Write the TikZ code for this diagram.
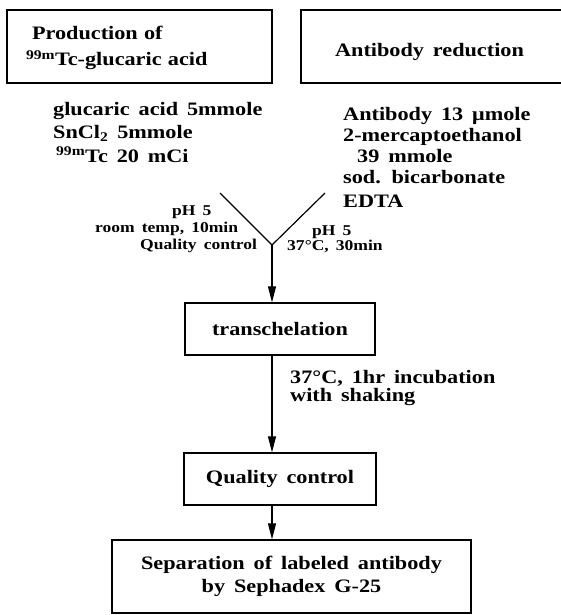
\documentclass[tikz,border=0pt]{standalone}
\usepackage{fontspec}
\newfontfamily\figfont{Liberation Serif}[FakeStretch=1.17,WordSpace=1.6]
\usetikzlibrary{arrows.meta}

\begin{document}
\begin{tikzpicture}[x=1pt,y=-1pt,
  box/.style={draw,line width=1.3pt,inner sep=0pt},
  bigtext/.style={font=\figfont\bfseries\fontsize{19}{22}\selectfont},
  smalltext/.style={font=\figfont\bfseries\fontsize{15}{17}\selectfont},
  flow/.style={line width=1.2pt,-{Triangle[length=16pt,width=8pt]}}]
\useasboundingbox (0,0) rectangle (560,615);

% the two starting boxes (right one runs off the page)
  \node[box,bigtext,minimum width=265pt,minimum height=73pt,text width=215pt,align=left,font=\figfont\bfseries\fontsize{19}{26}\selectfont] (prod) at (139.5,46.5)
    {\rule{0pt}{17pt}Production of\\\hspace*{-6pt}\textsuperscript{99m}Tc-glucaric acid};
  \node[box,bigtext,minimum width=262pt,minimum height=73pt] (red) at (432,46.5)
    {\hspace*{-5pt}\raisebox{-10.5pt}[0pt][0pt]{Antibody reduction}};

% what goes in (base = last line)
  \node[bigtext,anchor=base west,align=left,inner sep=0pt,font=\figfont\bfseries\fontsize{19}{23.5}\selectfont] (glu) at (53,162)
    {glucaric acid 5mmole\\SnCl\textsubscript{2} 5mmole\\\hspace*{3pt}\textsuperscript{99m}Tc 20 mCi};
  \node[bigtext,anchor=base west,align=left,inner sep=0pt,font=\figfont\bfseries\fontsize{19}{21}\selectfont] (ab) at (343,207)
    {Antibody 13 μmole\\2-mercaptoethanol\\\hspace*{14pt}39 mmole\\sod. bicarbonate\\[3pt]EDTA};

% the two streams meet
  \coordinate (vl) at (220,193);
  \coordinate (vr) at (325,193);
  \coordinate (vtip) at (272,245);
  \draw[line width=1.2pt] (vl) -- (vtip) -- (vr);
  \node[smalltext,anchor=base west,align=left,inner sep=0pt] (condl) at (95,249)
    {\hspace*{77pt}pH 5\\room temp, 10min\\\hspace*{45pt}Quality control};
  \node[smalltext,anchor=base west,align=left,inner sep=0pt,font=\figfont\bfseries\fontsize{15}{15}\selectfont] (condr) at (287,250)
    {\hspace*{25pt}pH 5\\37°C, 30min};

% main line
  \node[box,bigtext,minimum width=190pt,minimum height=52pt] (trans) at (280,329) {transchelation};
  \node[box,bigtext,minimum width=192pt,minimum height=52pt] (qc) at (280,479) {Quality control};
  \node[box,bigtext,minimum width=359pt,minimum height=73pt,align=center,font=\figfont\bfseries\fontsize{19}{23}\selectfont] (sep) at (291.5,576.5)
    {Separation of labeled antibody\\by Sephadex G-25};
  \node[bigtext,anchor=base west,align=left,inner sep=0pt,font=\figfont\bfseries\fontsize{19}{18}\selectfont] (inc) at (290,401)
    {37°C, 1hr incubation\\with shaking};

  \draw[flow] (vtip) -- (vtip |- trans.north);
  \draw[flow] (vtip |- trans.south) -- (vtip |- qc.north);
  \draw[flow] (vtip |- qc.south) -- (vtip |- sep.north);
\end{tikzpicture}
\end{document}
